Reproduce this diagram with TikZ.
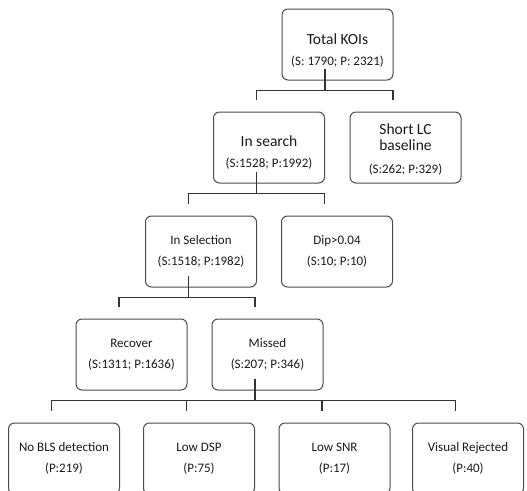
\documentclass[tikz,border=0pt]{standalone}
\usepackage{fontspec}
\setmainfont{Carlito}
\newcommand\ttl{\fontsize{15.5}{18}\selectfont}
\begin{document}
\begin{tikzpicture}[x=1pt,y=-1pt,
  box/.style={draw=black!70,line width=1pt,rounded corners=6pt,minimum width=111pt,
    minimum height=71pt,align=center,text=black!90,font=\fontsize{13}{21}\selectfont},
  link/.style={draw=black!80,line width=1.3pt}]
\useasboundingbox (0,0) rectangle (527,490);

% level 0
\node[box] (koi) at (337.5,44.5) {\rule{0pt}{23pt}{\ttl Total KOIs}\\(S: 1790; P: 2321)};

% level 1
\node[box] (search) at (269,147.5) {\rule{0pt}{20pt}{\ttl In search}\\(S:1528; P:1992)};
\node[box] (short) at (405.5,147.5) {\rule{0pt}{14pt}{\ttl Short LC}\\[-5pt]{\ttl baseline}\\[2pt](S:262; P:329)};

% level 2
\node[box] (sel) at (201,251.5) {In Selection\\(S:1518; P:1982)};
\node[box] (dip) at (337,251.5) {Dip>0.04\\(S:10; P:10)};

% level 3
\node[box] (rec) at (131.5,354.5) {Recover\\(S:1311; P:1636)};
\node[box] (miss) at (267.5,354.5) {Missed\\(S:207; P:346)};

% level 4
\node[box] (nobls) at (64,458.5) {No BLS detection\\(P:219)};
\node[box] (dsp) at (199,458.5) {Low DSP\\(P:75)};
\node[box] (snr) at (334.5,458.5) {Low SNR\\(P:17)};
\node[box] (vis) at (468,458.5) {Visual Rejected\\(P:40)};

\foreach \p/\c in {koi/search,koi/short,search/sel,search/dip,sel/rec,sel/miss,
                   miss/nobls,miss/dsp,miss/snr,miss/vis}
  \draw[link] ([xshift=-12.5pt,yshift=12pt]\p.south) -- ++(0,22)
    -| ([xshift=-12.5pt,yshift=12pt]\c.north);

\end{tikzpicture}
\end{document}
